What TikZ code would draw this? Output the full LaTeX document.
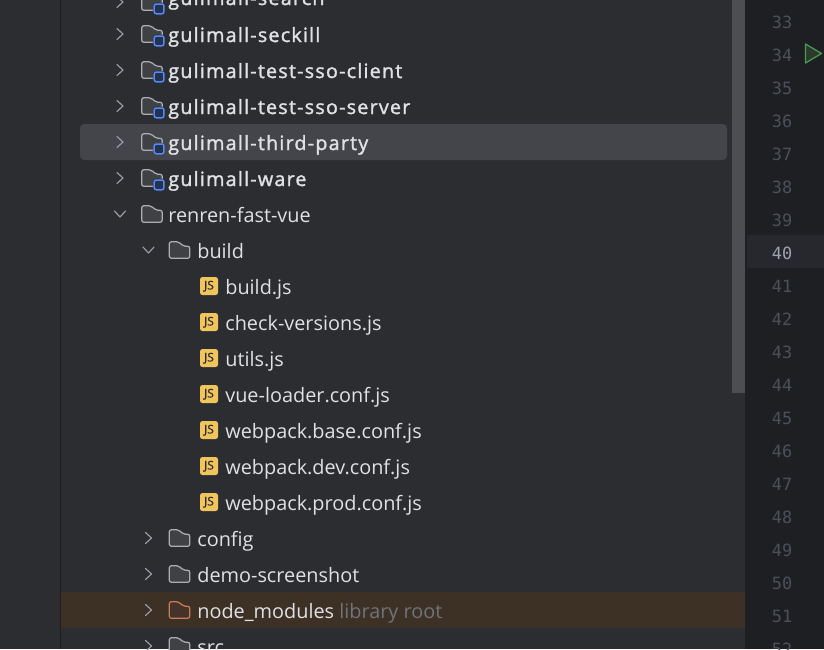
\documentclass[tikz,border=0pt]{standalone}
\usepackage{fontspec}
\setmainfont{Open Sans}
\newfontfamily\rowfont{Open Sans}
\newfontfamily\modfont[FakeBold=1.6,LetterSpace=6.3]{Open Sans}
\newfontfamily\jsfont[FakeBold=0.6]{Open Sans}
\newfontfamily\gutterfont{DejaVu Sans Mono}
\definecolor{panelbg}{HTML}{2B2D30}
\definecolor{gutterbg}{HTML}{1E1F22}
\definecolor{caretbg}{HTML}{26282E}
\definecolor{hoverbg}{HTML}{43454A}
\definecolor{libbg}{HTML}{3D3025}
\definecolor{thumb}{HTML}{4D4E51}
\definecolor{rowtext}{HTML}{DFE1E5}
\definecolor{hinttext}{HTML}{6F737A}
\definecolor{linenum}{HTML}{4B5059}
\definecolor{linecur}{HTML}{A1A3AB}
\definecolor{chevron}{HTML}{9DA0A8}
\definecolor{folderfill}{HTML}{3F4145}
\definecolor{folderline}{HTML}{ABAEB3}
\definecolor{libfill}{HTML}{45322B}
\definecolor{libline}{HTML}{C77D55}
\definecolor{badgeline}{HTML}{548AF7}
\definecolor{badgefill}{HTML}{25324D}
\definecolor{jsfill}{HTML}{F2C55C}
\definecolor{runline}{HTML}{499C54}
\definecolor{runfill}{HTML}{2B3A2D}
\tikzset{
  rowlabel/.style={anchor=base west,inner sep=0pt,text=rowtext,font=\rowfont\fontsize{11.3}{13}\selectfont},
  modlabel/.style={rowlabel,font=\modfont\fontsize{11.2}{13}\selectfont},
  hintlabel/.style={rowlabel,text=hinttext},
  linelabel/.style={anchor=base,inner sep=0pt,text=linenum,font=\gutterfont\fontsize{9.6}{12}\selectfont},
  jslabel/.style={inner sep=0pt,text=panelbg,font=\jsfont\fontsize{6.8}{7}\selectfont},
  chevronline/.style={draw=chevron,line width=0.65pt,line cap=round,line join=round},
  pics/chevronright/.style={code={\draw[chevronline] (-0.060,0.110) -- (0.060,0) -- (-0.060,-0.110);}},
  pics/chevrondown/.style={code={\draw[chevronline] (-0.110,0.060) -- (0,-0.060) -- (0.110,0.060);}},
  pics/folder/.style={code={\draw[draw=#1line,fill=#1fill,line width=0.7pt,rounded corners=1.2pt]
    (0,0.165) -- (0.190,0.165) -- (0.280,0.075) -- (0.410,0.075) -- (0.410,-0.165) -- (0,-0.165) -- cycle;}},
  pics/badge/.style={code={\draw[draw=panelbg,line width=1.4pt,rounded corners=1.2pt] (0.250,-0.040) rectangle (0.445,-0.235);
    \draw[draw=badgeline,fill=badgefill,line width=0.85pt,rounded corners=1.2pt] (0.250,-0.040) rectangle (0.445,-0.235);}},
  pics/hoverbadge/.style={code={\draw[draw=hoverbg,line width=1.4pt,rounded corners=1.2pt] (0.250,-0.040) rectangle (0.445,-0.235);
    \draw[draw=badgeline,fill=badgefill,line width=0.85pt,rounded corners=1.2pt] (0.250,-0.040) rectangle (0.445,-0.235);}},
  pics/jsfile/.style={code={\fill[jsfill,rounded corners=1.4pt] (0,0.180) rectangle (0.360,-0.180);
    \node[jslabel] (-js) at (0.180,-0.005) {JS};}}
}
\begin{document}
\begin{tikzpicture}
\useasboundingbox (0,0) rectangle (16.480,-12.980);
\clip (0,0) rectangle (16.480,-12.980);
% panels
\fill[panelbg] (0,0) rectangle (14.900,-12.980);
\fill[gutterbg] (1.200,0) rectangle (1.220,-12.980);
\fill[gutterbg] (14.900,0) rectangle (16.480,-12.980);
\fill[caretbg] (14.940,-4.700) rectangle (16.480,-5.360);
\fill[hoverbg,rounded corners=2.4pt] (1.600,-2.480) rectangle (14.540,-3.200);
\fill[libbg] (1.220,-11.840) rectangle (14.900,-12.560);
\fill[thumb] (14.640,0) rectangle (14.900,-7.860);
% module rows
\pic at (2.400,-0.040) {chevronright};
\pic at (2.834,-0.040) {folder=folder};
\pic at (2.834,-0.040) {badge};
\node[modlabel] (search) at (3.360,-0.100) {gulimall-search};
\pic at (2.400,-0.680) {chevronright};
\pic at (2.834,-0.680) {folder=folder};
\pic at (2.834,-0.680) {badge};
\node[modlabel] (seckill) at (3.360,-0.840) {gulimall-seckill};
\pic at (2.400,-1.400) {chevronright};
\pic at (2.834,-1.400) {folder=folder};
\pic at (2.834,-1.400) {badge};
\node[modlabel] (ssoclient) at (3.360,-1.560) {gulimall-test-sso-client};
\pic at (2.400,-2.120) {chevronright};
\pic at (2.834,-2.120) {folder=folder};
\pic at (2.834,-2.120) {badge};
\node[modlabel] (ssoserver) at (3.360,-2.280) {gulimall-test-sso-server};
\pic at (2.400,-2.840) {chevronright};
\pic at (2.834,-2.840) {folder=folder};
\pic at (2.834,-2.840) {hoverbadge};
\node[modlabel] (thirdparty) at (3.360,-3.000) {gulimall-third-party};
\pic at (2.400,-3.560) {chevronright};
\pic at (2.834,-3.560) {folder=folder};
\pic at (2.834,-3.560) {badge};
\node[modlabel] (ware) at (3.360,-3.720) {gulimall-ware};
% renren-fast-vue
\pic at (2.400,-4.280) {chevrondown};
\pic at (2.834,-4.280) {folder=folder};
\node[rowlabel] (renren) at (3.360,-4.440) {renren-fast-vue};
\pic at (2.970,-5.000) {chevrondown};
\pic at (3.386,-5.000) {folder=folder};
\node[rowlabel] (build) at (3.940,-5.160) {build};
% build files
\pic (jsbuild) at (4.000,-5.720) {jsfile};
\node[rowlabel] (buildjs) at (4.500,-5.880) {build.js};
\pic (jscheck) at (4.000,-6.440) {jsfile};
\node[rowlabel] (checkjs) at (4.500,-6.600) {check-versions.js};
\pic (jsutils) at (4.000,-7.160) {jsfile};
\node[rowlabel] (utilsjs) at (4.500,-7.320) {utils.js};
\pic (jsvue) at (4.000,-7.880) {jsfile};
\node[rowlabel] (vuejs) at (4.500,-8.040) {vue-loader.conf.js};
\pic (jsbase) at (4.000,-8.600) {jsfile};
\node[rowlabel] (basejs) at (4.500,-8.760) {webpack.base.conf.js};
\pic (jsdev) at (4.000,-9.320) {jsfile};
\node[rowlabel] (devjs) at (4.500,-9.480) {webpack.dev.conf.js};
\pic (jsprod) at (4.000,-10.040) {jsfile};
\node[rowlabel] (prodjs) at (4.500,-10.200) {webpack.prod.conf.js};
% remaining rows
\pic at (2.970,-10.760) {chevronright};
\pic at (3.386,-10.760) {folder=folder};
\node[rowlabel] (config) at (3.940,-10.920) {config};
\pic at (2.970,-11.480) {chevronright};
\pic at (3.386,-11.480) {folder=folder};
\node[rowlabel] (demo) at (3.940,-11.640) {demo-screenshot};
\pic at (2.970,-12.200) {chevronright};
\pic at (3.386,-12.200) {folder=lib};
\node[rowlabel] (nodemodules) at (3.940,-12.360) {node\_modules};
\node[hintlabel] (libroot) at (6.780,-12.360) {library root};
\pic at (2.970,-12.920) {chevronright};
\pic at (3.386,-12.920) {folder=folder};
\node[rowlabel] (src) at (3.940,-13.080) {src};
% gutter
\node[linelabel] (n33) at (15.640,-0.560) {33};
\node[linelabel] (n34) at (15.640,-1.220) {34};
\node[linelabel] (n35) at (15.640,-1.880) {35};
\node[linelabel] (n36) at (15.640,-2.540) {36};
\node[linelabel] (n37) at (15.640,-3.200) {37};
\node[linelabel] (n38) at (15.640,-3.860) {38};
\node[linelabel] (n39) at (15.640,-4.520) {39};
\node[linelabel,text=linecur] (n40) at (15.640,-5.180) {40};
\node[linelabel] (n41) at (15.640,-5.840) {41};
\node[linelabel] (n42) at (15.640,-6.500) {42};
\node[linelabel] (n43) at (15.640,-7.160) {43};
\node[linelabel] (n44) at (15.640,-7.820) {44};
\node[linelabel] (n45) at (15.640,-8.480) {45};
\node[linelabel] (n46) at (15.640,-9.140) {46};
\node[linelabel] (n47) at (15.640,-9.800) {47};
\node[linelabel] (n48) at (15.640,-10.460) {48};
\node[linelabel] (n49) at (15.640,-11.120) {49};
\node[linelabel] (n50) at (15.640,-11.780) {50};
\node[linelabel] (n51) at (15.640,-12.440) {51};
\node[linelabel] (n52) at (15.640,-13.100) {52};
% run marker
\draw[draw=runline,fill=runfill,line width=0.7pt,line join=round] (16.110,-0.880) -- (16.110,-1.260) -- (16.430,-1.070) -- cycle;
\end{tikzpicture}
\end{document}
